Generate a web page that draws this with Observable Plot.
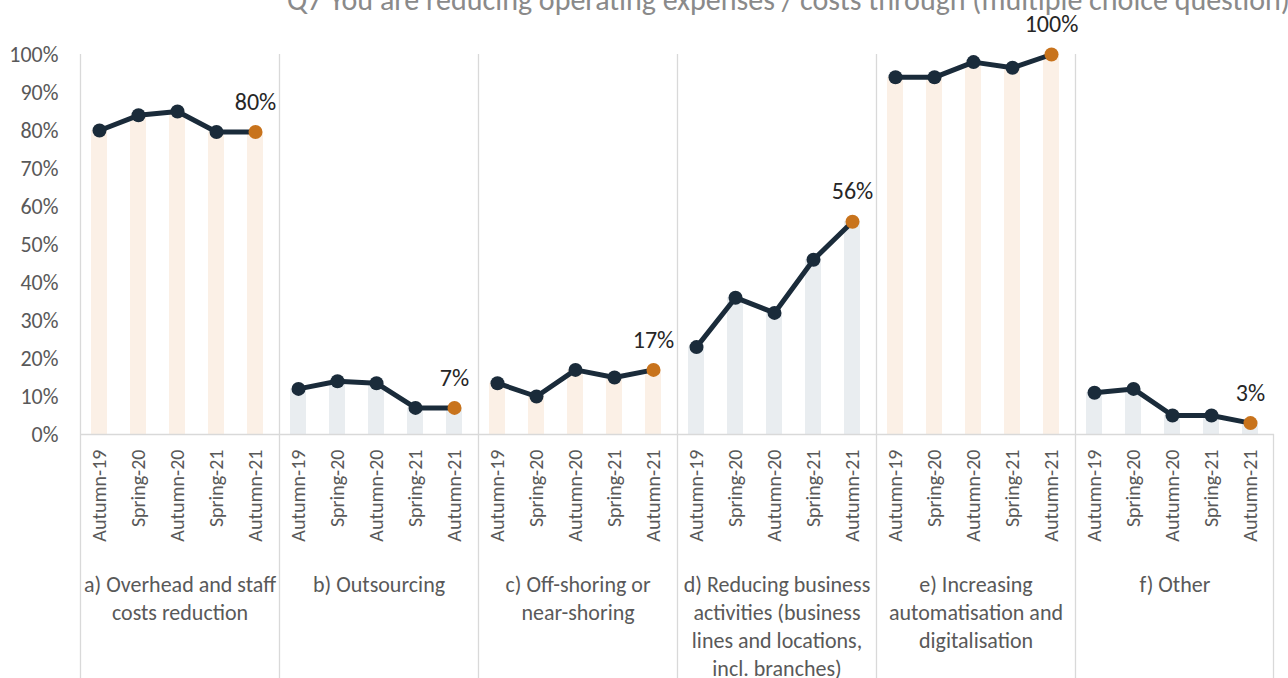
<!DOCTYPE html>
<html><head><meta charset="utf-8">
<script src="https://cdn.jsdelivr.net/npm/d3@7"></script>
<script src="https://cdn.jsdelivr.net/npm/@observablehq/plot@0.6"></script>
<style>
html,body{margin:0;padding:0;background:#fff;overflow:hidden;width:1288px;height:678px;}
#wrap{position:relative;width:1288px;height:678px;overflow:hidden;}
#title{position:absolute;left:287px;top:-15px;line-height:1;white-space:nowrap;font-family:Carlito,Calibri,Lato,sans-serif;font-size:30px;color:#8a8a8a;}
#chart{position:absolute;left:0;top:0;}
</style></head><body>
<div id="wrap"><div id="title">Q7 You are reducing operating expenses / costs through (multiple choice question)</div><div id="chart"></div></div>
<script>
const periods = ["Autumn-19", "Spring-20", "Autumn-20", "Spring-21", "Autumn-21"];
const groups = ["a", "b", "c", "d", "e", "f"];
const groupLabels = [
  "a) Overhead and staff\ncosts reduction",
  "b) Outsourcing",
  "c) Off-shoring or\nnear-shoring",
  "d) Reducing business\nactivities (business\nlines and locations,\nincl. branches)",
  "e) Increasing\nautomatisation and\ndigitalisation",
  "f) Other"
];
const overhead    = [80, 84, 85, 79.6, 79.6];
const outsourcing = [12, 14, 13.5, 7, 7];
const offshoring  = [13.5, 10, 17, 15, 17];
const reducing    = [23, 36, 32, 46, 56];
const automation  = [94, 94, 98, 96.5, 100];
const other       = [11, 12, 5, 5, 3];

const series = [overhead, outsourcing, offshoring, reducing, automation, other];
const rows = groups.flatMap((g, gi) => periods.map((p, pi) => ({group: g, gi, period: p, pi, value: series[gi][pi]})));
const last = rows.filter(d => d.pi === periods.length - 1);
const labelRows = groups.map((g, i) => ({group: g, label: groupLabels[i]}));

const font = "Carlito, Calibri, Lato, sans-serif";
const navy = "#1a2b3a", orange = "#c8731c", peach = "#fbf0e6", grey = "#e9edf0", axisGrey = "#595959";

const chart = Plot.plot({
  width: 1288, height: 678,
  marginLeft: 79, marginRight: 13, marginTop: 54, marginBottom: 244,
  style: {fontFamily: font, background: "transparent"},
  fx: {domain: groups, padding: 0, axis: null},
  x: {domain: periods, paddingInner: 0.6, paddingOuter: 0.3, align: 0.4, axis: null},
  y: {domain: [0, 100], axis: null},
  marks: [
    Plot.barY(rows, {fx: "group", x: "period", y: "value", fill: d => d.gi % 2 ? grey : peach}),
    Plot.ruleY([0], {stroke: "#d9d9d9", strokeWidth: 1.5}),
    Plot.lineY(rows, {fx: "group", x: "period", y: "value", stroke: navy, strokeWidth: 5}),
    Plot.dot(rows, {fx: "group", x: "period", y: "value", r: 7, fill: d => d.pi === periods.length - 1 ? orange : navy}),
    Plot.text(last, {fx: "group", x: "period", y: "value", text: d => Math.round(d.value) + "%", dy: -30, fontSize: 24, fill: "#262626"}),
    Plot.axisX({tickRotate: -90, tickSize: 0, tickPadding: 15, fontSize: 20, fill: axisGrey, label: null, style: {letterSpacing: "1.8px"}}),
    Plot.axisY({ticks: d3.range(0, 101, 10), tickFormat: d => d + "%", tickSize: 0, tickPadding: 22, fontSize: 22, fill: axisGrey, label: null}),
    Plot.text(labelRows, {fx: "group", text: "label", frameAnchor: "bottom", lineAnchor: "top", dy: 138, fontSize: 22, lineHeight: 1.27, fill: axisGrey})
  ]
});

document.getElementById("chart").appendChild(chart);

// group separators drawn from the plot's own fx / y scales
const fxs = chart.scale("fx"), ys = chart.scale("y");
const svg = d3.select(chart);
const sep = svg.insert("g", ":first-child").attr("stroke", "#d9d9d9").attr("stroke-width", 1.3);
groups.forEach(g => {
  const x0 = Math.round(fxs.apply(g)) + 0.5;
  sep.append("line").attr("x1", x0).attr("x2", x0).attr("y1", ys.apply(100)).attr("y2", 678);
});
const xEnd = Math.round(fxs.apply(groups[groups.length - 1]) + fxs.bandwidth) - 0.5;
sep.append("line").attr("x1", xEnd).attr("x2", xEnd).attr("y1", ys.apply(0)).attr("y2", 678);
</script>
</body></html>
